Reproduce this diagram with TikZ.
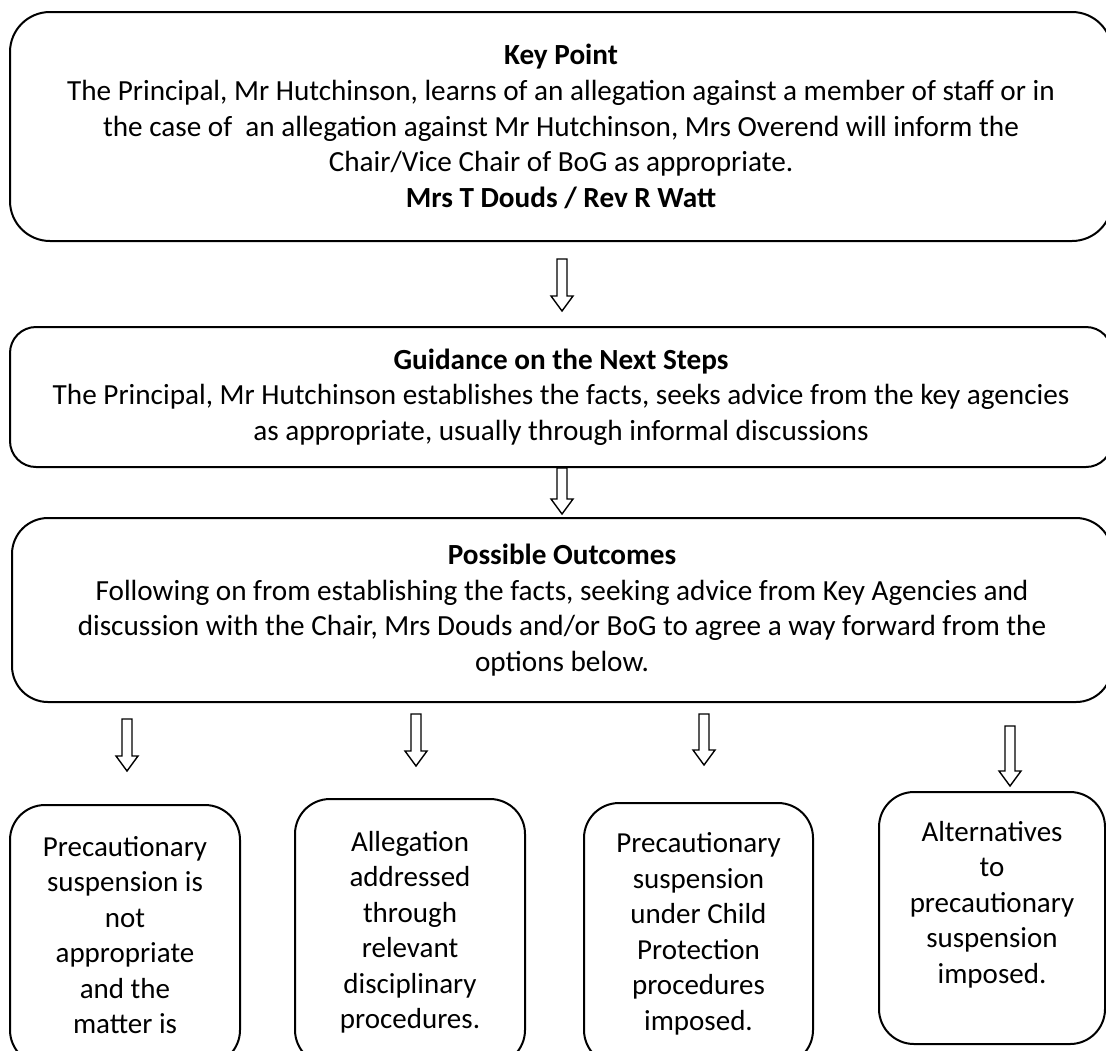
\documentclass[tikz,border=0pt]{standalone}
\usepackage{fontspec}
\setmainfont{Carlito}
\usetikzlibrary{calc}

\tikzset{
  flowbox/.style={draw, line width=1pt, align=center, inner sep=0pt},
  wide/.style={flowbox, minimum width=551pt, font=\fontsize{14.6pt}{17.8pt}\selectfont},
  option/.style={flowbox, rounded corners=17.5pt, font=\fontsize{14.5pt}{17.75pt}\selectfont},
  arrowline/.style={draw, line width=0.7pt, line join=miter}
}

% hollow block arrow, drawn straight down from #1 to #2
\newcommand{\hollowarrow}[2]{%
  \draw[arrowline] let \p1=#1, \p2=#2 in
    (\x1-2.5pt,\y1) -- (\x1+2.5pt,\y1) -- (\x1+2.5pt,\y2+7.5pt) -- (\x1+5.5pt,\y2+7.5pt)
    -- (\x1,\y2) -- (\x1-5.5pt,\y2+7.5pt) -- (\x1-2.5pt,\y2+7.5pt) -- cycle;}

\begin{document}
\begin{tikzpicture}[x=0.5pt, y=-0.5pt]
  \useasboundingbox (0,0) rectangle (1106,1050);
  \clip (0,0) rectangle (1106,1050);

  % the three wide steps
  \node[wide, rounded corners=20pt, minimum height=114.5pt] (keypt) at (561,126.5)
    {\textbf{Key Point}\\
     The Principal, Mr Hutchinson, learns of an allegation against a member of staff or in\\
     the case of\ \ an allegation against Mr Hutchinson, Mrs Overend will inform the\\
     Chair/Vice Chair of BoG as appropriate.\\
     \textbf{Mrs T Douds / Rev R Watt}};
  \node[wide, rounded corners=13pt, minimum height=70pt] (guide) at (561,397)
    {\textbf{Guidance on the Next Steps}\\
     The Principal, Mr Hutchinson establishes the facts, seeks advice from the key agencies\\
     as appropriate, usually through informal discussions};
  \node[wide, minimum width=550pt, rounded corners=18pt, minimum height=92pt] (outc) at (562,610)
    {\textbf{Possible Outcomes}\\
     Following on from establishing the facts, seeking advice from Key Agencies and\\
     discussion with the Chair, Mrs Douds and/or BoG to agree a way forward from the\\
     options below.};

  % the four options
  \node[option, minimum width=115pt, minimum height=130pt] (opta) at (125,935)
    {Precautionary\\ suspension is\\ not\\ appropriate\\ and the\\ matter is};
  \node[option, minimum width=115pt, minimum height=133pt] (optb) at (410,932)
    {Allegation\\ addressed\\ through\\ relevant\\ disciplinary\\ procedures.};
  \node[option, minimum width=114.5pt, minimum height=131pt] (optc) at (698.5,934)
    {Precautionary\\ suspension\\ under Child\\ Protection\\ procedures\\ imposed.};
  \node[option, minimum width=113pt, minimum height=126pt, text depth=16pt] (optd) at (992,918)
    {Alternatives\\ to\\ precautionary\\ suspension\\ imposed.};

  % arrows
  \hollowarrow{($(keypt.south)+(1,17)$)}{($(guide.north)+(1,-15)$)}
  \hollowarrow{($(guide.south)+(1,0)$)}{($(outc.north)+(0,-3)$)}
  \hollowarrow{($(outc.south -| opta.north)+(2,16)$)}{($(opta.north)+(2,-33)$)}
  \hollowarrow{($(outc.south -| optb.north)+(6,11)$)}{($(optb.north)+(6,-32)$)}
  \hollowarrow{($(outc.south -| optc.north)+(5.5,11)$)}{($(optc.north)+(5.5,-37)$)}
  \hollowarrow{($(outc.south -| optd.north)+(18,23)$)}{($(optd.north)+(18,-5)$)}
\end{tikzpicture}
\end{document}
